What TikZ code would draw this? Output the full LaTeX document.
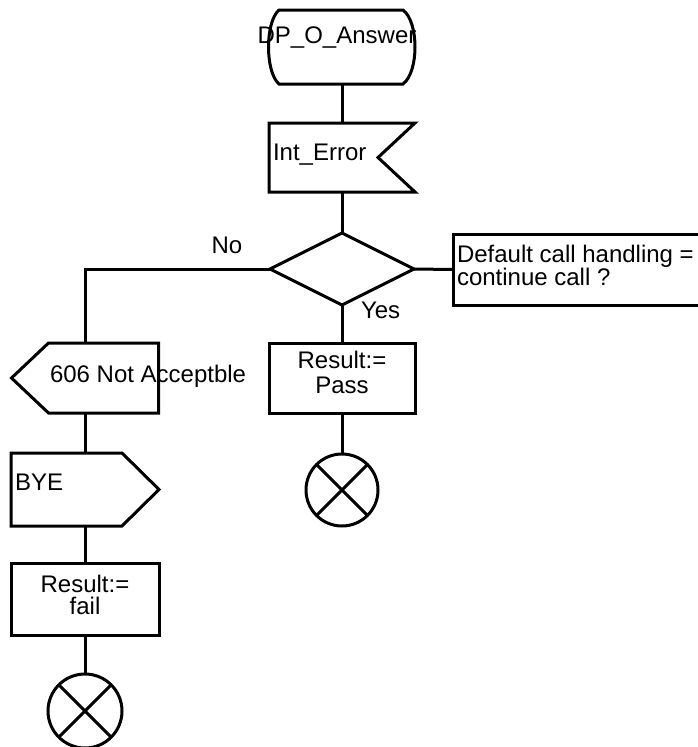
\documentclass[tikz,border=0pt]{standalone}
\usepackage{fontspec}
\setmainfont{Liberation Sans}
\usetikzlibrary{calc}
\begin{document}
\begin{tikzpicture}[x=1pt,y=-1pt,
  line/.style={line width=3pt, line join=miter},
  box/.style={rectangle, inner sep=0pt, outer sep=0pt},
  txt/.style={inner sep=0pt, outer sep=0pt, font=\fontsize{24}{23}\selectfont},
  stopc/.style={circle, draw, line width=3pt, inner sep=0pt, outer sep=0pt, minimum size=72pt}]
\useasboundingbox (0,0) rectangle (698,747);

% start (terminator)
\node[box, minimum width=148pt, minimum height=74pt] (start) at (342,47) {};
\draw[line] ($(start.north west)+(11,0)$) -- ($(start.north east)+(-13,0)$)
  .. controls ($(start.north east)+(3,12)$) and ($(start.south east)+(3,-12)$) .. ($(start.south east)+(-13,0)$)
  -- ($(start.south west)+(11,0)$)
  .. controls ($(start.south west)+(-3,-12)$) and ($(start.north west)+(-3,12)$) .. cycle;
\node[txt, anchor=base] (tstart) at (337,43) {DP\_O\_Answer};

% Int_Error (input)
\node[box, minimum width=146pt, minimum height=69pt] (interr) at (342,157.5) {};
\draw[line] (interr.north west) -- (interr.north east) -- ($(interr.east)+(-37,0)$)
  -- (interr.south east) -- (interr.south west) -- cycle;
\node[txt, anchor=base west] (tinterr) at (273,160) {Int\_Error};

% decision
\node[box, minimum width=144pt, minimum height=72pt] (dec) at (342,269) {};
\draw[line] (dec.north) -- (dec.east) -- (dec.south) -- (dec.west) -- cycle;

% condition comment box (open to the right)
\node[box, minimum width=320pt, minimum height=71pt, anchor=west] (cond) at (453,269.5) {};
\draw[line] (cond.north east) -- (cond.north west) -- (cond.south west) -- (cond.south east);
\node[txt, anchor=north west, align=left, font=\fontsize{24}{21}\selectfont] (tcond) at (457,244.8) {Default call handling =\\continue call ?};

\node[txt, anchor=base] (tno) at (227,253) {No};
\node[txt, anchor=base west] (tyes) at (361,318) {Yes};

% 606 Not Acceptble (output, pointing left)
\node[box, minimum width=147pt, minimum height=70pt] (nacc) at (85,378) {};
\draw[line] (nacc.west) -- ($(nacc.north west)+(37,0)$) -- (nacc.north east)
  -- (nacc.south east) -- ($(nacc.south west)+(37,0)$) -- cycle;
\node[txt, anchor=base west] (tnacc) at (50,382) {606 Not Acceptble};

% BYE (output, pointing right)
\node[box, minimum width=148pt, minimum height=73pt] (bye) at (85,489.5) {};
\draw[line] (bye.north west) -- ($(bye.north east)+(-37,0)$) -- (bye.east)
  -- ($(bye.south east)+(-37,0)$) -- (bye.south west) -- cycle;
\node[txt, anchor=base west] (tbye) at (15,490) {BYE};

% Result:= fail
\node[box, draw, line, minimum width=148pt, minimum height=72pt] (fail) at (85,599) {};
\node[txt, anchor=north, align=center, font=\fontsize{24}{22}\selectfont] (tfail) at (85,574.8) {Result:=\\fail};

% Result:= Pass
\node[box, draw, line, minimum width=146pt, minimum height=70pt] (pass) at (342,378) {};
\node[txt, anchor=north, align=center, font=\fontsize{24}{25}\selectfont] (tpass) at (342,350.8) {Result:=\\Pass};

% stops
\node[stopc] (stop1) at (342,490) {};
\draw[line] (stop1.45) -- (stop1.225) (stop1.135) -- (stop1.315);
\node[stopc, minimum size=74pt] (stop2) at (85,711) {};
\draw[line] (stop2.45) -- (stop2.225) (stop2.135) -- (stop2.315);

% connectors
\draw[line] (start.south) -- (interr.north);
\draw[line] (interr.south) -- (dec.north);
\draw[line] (dec.east) -- (cond.west);
\draw[line] (dec.west) -| (nacc.north);
\draw[line] (dec.south) -- (pass.north);
\draw[line] (pass.south) -- (stop1.north);
\draw[line] (nacc.south) -- (bye.north);
\draw[line] (bye.south) -- (fail.north);
\draw[line] (fail.south) -- (stop2.north);
\end{tikzpicture}
\end{document}
